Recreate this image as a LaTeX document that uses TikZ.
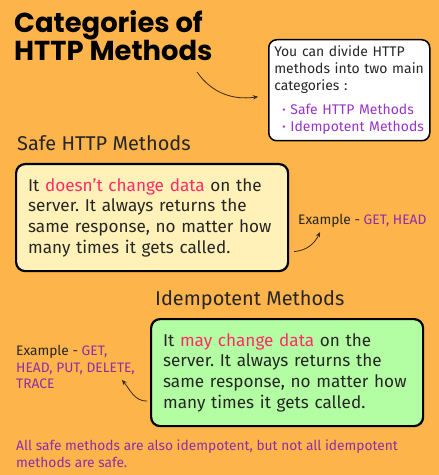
\documentclass[tikz,border=0pt]{standalone}
\usepackage{fontspec}
\setmainfont{Fira Sans}
\newfontfamily\titlefont{Poppins}
\usepackage{xcolor}
\definecolor{colBg}{HTML}{FDB44B}
\definecolor{colSafe}{HTML}{FFF1B8}
\definecolor{colIdem}{HTML}{B3FDA3}
\definecolor{colHot}{HTML}{FF2D67}
\definecolor{colPurp}{HTML}{8E2FA8}
\definecolor{colBullet}{HTML}{9A33C9}
\definecolor{colInk}{HTML}{262626}
\definecolor{colArrow}{HTML}{3A2A14}
\usepackage{tikz}
\usetikzlibrary{arrows.meta, positioning, calc}
\frenchspacing

\begin{document}
\begin{tikzpicture}[x=1bp, y=-1bp,
	card/.style={draw=black, line width=2.2bp, rounded corners=9bp, anchor=north west, align=left, text width=248bp, inner xsep=12bp, minimum height=107bp, font=\fontsize{17.2}{20.8}\selectfont, text=colInk},
	heading/.style={anchor=base west, inner sep=0pt, font=\fontsize{20}{22}\selectfont, text=colInk},
	small/.style={align=left, inner sep=0pt, font=\fontsize{13.8}{16.6}\selectfont, text=colInk},
	curvy/.style={colArrow, line width=0.8bp, -{Stealth[length=5bp, width=4.5bp]}}]
	\fill[colBg] (0,0) rectangle (439,475);
	\useasboundingbox (0,0) rectangle (439,475);
	\node[anchor=north west, align=left, inner sep=0pt, text=black, font=\titlefont\bfseries\fontsize{27.5}{28}\selectfont] (title) at (14,10.5) {Categories of\\HTTP Methods};
	\node[draw=black, fill=white, line width=1.5bp, rounded corners=8bp, anchor=north west, align=left, text width=150bp, inner xsep=5.5bp, minimum height=101bp, text=colInk, font=\fontsize{14}{16.8}\selectfont] (intro) at (268,39)
		{You can divide HTTP\\methods into two main\\categories :\\[8bp]
		\hspace*{8bp}{\color{colBullet}\raisebox{1bp}{\fontsize{10}{10}\selectfont\textbullet}\hspace{5bp}Safe HTTP Methods}\\
		\hspace*{8bp}{\color{colBullet}\raisebox{1bp}{\fontsize{10}{10}\selectfont\textbullet}\hspace{5bp}Idempotent Methods}};
	\node[heading] (safeHead) at (17,151) {Safe HTTP Methods};
	\node[card, fill=colSafe] (safe) at (15,163)
		{It {\color{colHot}doesn’t change data} on the\\server. It always returns the\\same response, no matter how\\many times it gets called.};
	\node[small, anchor=base west] (exSafe) at (298,225) {Example - {\color{colPurp}GET, HEAD}};
	\node[heading] (idemHead) at (155,305) {Idempotent Methods};
	\node[card, fill=colIdem] (idem) at (150,318)
		{It {\color{colHot}may change data} on the\\server. It always returns the\\same response, no matter how\\many times it gets called.};
	\node[small, anchor=north west] (exIdem) at (16,345) {Example - {\color{colPurp}GET,}\\{\color{colPurp}HEAD, PUT, DELETE,}\\{\color{colPurp}TRACE}};
	\node[small, anchor=north west, text=colPurp] (note) at (16,440) {All safe methods are also idempotent, but not all idempotent\\methods are safe.};
	\coordinate (tail) at (197,72);
	\draw[curvy] (tail) to[out=-55, in=188] ([xshift=-10bp, yshift=-6.5bp]intro.west);
	\draw[curvy] ([xshift=5bp, yshift=-34bp]safe.east) to[out=5, in=-115] ([xshift=22bp, yshift=-4bp]exSafe.south west);
	\draw[curvy] ([xshift=-3bp, yshift=-28.5bp]idem.west) to[out=180, in=-50] ([xshift=-13bp, yshift=9bp]exIdem.south east);
\end{tikzpicture}
\end{document}
